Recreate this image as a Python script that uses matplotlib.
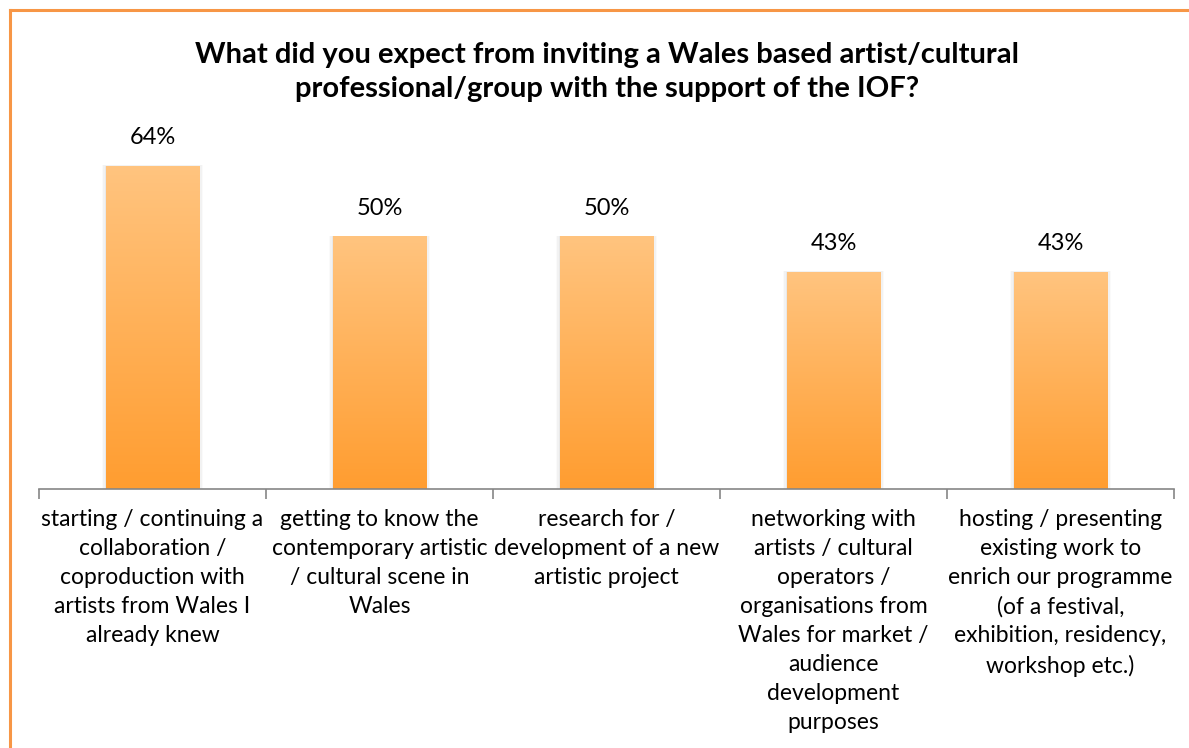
import numpy as np
import matplotlib
matplotlib.use("Agg")
import matplotlib.pyplot as plt
from matplotlib.lines import Line2D
from matplotlib.colors import LinearSegmentedColormap

categories = [
    "starting / continuing a\ncollaboration /\ncoproduction with\nartists from Wales I\nalready knew",
    "getting to know the\ncontemporary artistic\n/ cultural scene in\nWales",
    "research for /\ndevelopment of a new\nartistic project",
    "networking with\nartists / cultural\noperators /\norganisations from\nWales for market /\naudience\ndevelopment\npurposes",
    "hosting / presenting\nexisting work to\nenrich our programme\n(of a festival,\nexhibition, residency,\nworkshop etc.)",
]
values = [64, 50, 50, 43, 43]
title = ("What did you expect from inviting a Wales based artist/cultural\n"
         "professional/group with the support of the IOF?")

plt.rcParams["font.family"] = ["Lato", "DejaVu Sans"]

fig = plt.figure(figsize=(11.89, 7.48), dpi=100)
ax = fig.add_axes([0.0328, 0.3463, 0.9546, 0.472])

# vertical orange gradient, light at the top, deeper at the base
grad = LinearSegmentedColormap.from_list("bar", ["#FF9D30", "#FFC47F"])
col = np.linspace(0, 1, 256).reshape(-1, 1)
width = 0.41

x = np.arange(len(values))
for xi, v in zip(x, values):
    # soft drop shadow behind each bar
    for k, a in enumerate([0.04, 0.03, 0.02]):
        d = 0.006 * (k + 1)
        ax.add_patch(plt.Rectangle((xi - width / 2 - d, 0), width + 2 * d,
                                   v + d * 12, color="black", alpha=a,
                                   lw=0, zorder=1))
    ax.imshow(col, extent=[xi - width / 2, xi + width / 2, 0, v],
              origin="lower", aspect="auto", cmap=grad, zorder=2)
    ax.text(xi, v + 3.6, f"{v}%", ha="center", va="bottom", fontsize=17)

ax.set_xlim(-0.5, len(values) - 0.5)
ax.set_ylim(0, 70)

for s in ["top", "right", "left"]:
    ax.spines[s].set_visible(False)
ax.spines["bottom"].set_color("#868686")
ax.spines["bottom"].set_linewidth(1.2)
ax.set_yticks([])

# tick marks sit on the category boundaries
ax.set_xticks(np.arange(-0.5, len(values)), minor=False)
ax.set_xticklabels([])
ax.tick_params(axis="x", direction="out", length=7, color="#868686", width=1.2)
for xi, lab in zip(x, categories):
    ax.text(xi, -3.9, lab, ha="center", va="top", fontsize=16.5,
            linespacing=1.47)

fig.text(0.5105, 0.904, title, ha="center", va="center", fontsize=21,
         fontweight="bold", linespacing=1.38)

# orange frame along the top and left edge
frame = "#F79646"
fig.add_artist(Line2D([10 / 1189, 1], [1 - 9.5 / 748] * 2, color=frame, lw=2.2))
fig.add_artist(Line2D([10 / 1189] * 2, [0, 1 - 9.5 / 748], color=frame, lw=2.2))

fig.savefig("out.png", dpi=100)
